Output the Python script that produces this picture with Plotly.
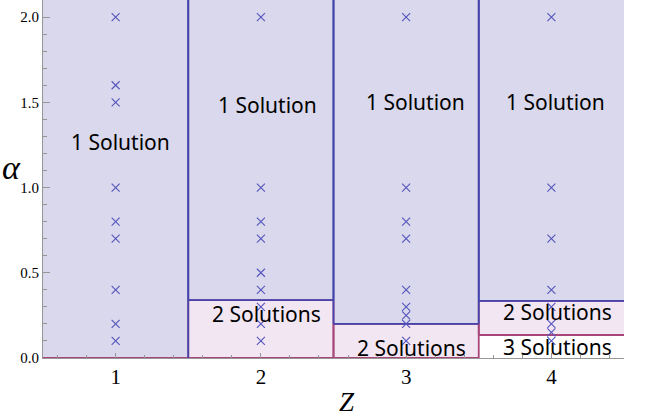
import plotly.graph_objects as go

# ---------------- data ----------------
Z = [1, 2, 3, 4]
alpha_z1 = [2.0, 1.6, 1.5, 1.0, 0.8, 0.7, 0.4, 0.2, 0.1]
alpha_z2 = [2.0, 1.0, 0.8, 0.7, 0.5, 0.4, 0.3, 0.2, 0.1]
alpha_z3 = [2.0, 1.0, 0.8, 0.7, 0.4, 0.3, 0.25, 0.2, 0.1]
alpha_z4 = [2.0, 1.0, 0.7, 0.4, 0.3, 0.2, 0.15, 0.1]
samples = [alpha_z1, alpha_z2, alpha_z3, alpha_z4]

one_sol_lower = [0.0, 0.34, 0.2, 0.335]   # lower boundary of "1 Solution" region
two_sol_lower = [0.0, 0.0, 0.0, 0.135]    # lower boundary of "2 Solutions" region
alpha_max = 2.1

region_labels = [
    # (text, Z, alpha)
    ("1 Solution", 1.034, 1.265),
    ("1 Solution", 2.048, 1.485),
    ("1 Solution", 3.062, 1.503),
    ("1 Solution", 4.028, 1.50),
    ("2 Solutions", 2.04, 0.256),
    ("2 Solutions", 3.038, 0.058),
    ("2 Solutions", 4.04, 0.27),
    ("3 Solutions", 4.04, 0.062),
]

# ---------------- styles ----------------
LAV = "rgb(217,216,236)"
PINK = "rgb(242,230,243)"
BLUE = "rgb(68,68,172)"
MAROON = "rgb(168,70,122)"
MARK = "rgb(85,85,190)"
GREY = "rgb(150,150,150)"

fig = go.Figure()

# fills
for i, z in enumerate(Z):
    xl, xr = z - 0.5, z + 0.5
    b1, b2 = one_sol_lower[i], two_sol_lower[i]
    fig.add_trace(go.Scatter(x=[xl, xr, xr, xl, xl], y=[b1, b1, alpha_max, alpha_max, b1],
                             mode="lines", fill="toself", fillcolor=LAV,
                             line=dict(width=0), hoverinfo="skip", showlegend=False))
    if b1 > b2:
        fig.add_trace(go.Scatter(x=[xl, xr, xr, xl, xl], y=[b2, b2, b1, b1, b2],
                                 mode="lines", fill="toself", fillcolor=PINK,
                                 line=dict(width=0), hoverinfo="skip", showlegend=False))

# pink (2-solution) region edges
px, py = [], []
for i, z in enumerate(Z):
    xl, xr = z - 0.5, z + 0.5
    lo, hi = two_sol_lower[i], one_sol_lower[i]
    px += [xl, xr, None]; py += [lo, lo, None]
    if hi > lo:
        px += [xl, xr, None]; py += [hi, hi, None]
        if i > 0:
            px += [xl, xl, None]; py += [lo, hi, None]
        if i < len(Z) - 1:
            px += [xr, xr, None]; py += [lo, hi, None]
fig.add_trace(go.Scatter(x=px, y=py, mode="lines", line=dict(color=MAROON, width=1.8),
                         hoverinfo="skip", showlegend=False))

# blue (1-solution) region edges
bx, by = [], []
for i, z in enumerate(Z):
    xl, xr = z - 0.5, z + 0.5
    b = one_sol_lower[i]
    if i > 0:
        bx += [xl, xl, None]; by += [b, alpha_max, None]
    if b > 0:
        bx += [xl, xr, None]; by += [b, b, None]
    if i < len(Z) - 1:
        bx += [xr, xr, None]; by += [b, alpha_max, None]
fig.add_trace(go.Scatter(x=bx, y=by, mode="lines", line=dict(color=BLUE, width=1.8),
                         hoverinfo="skip", showlegend=False))

# sample markers
for z, a in zip(Z, samples):
    fig.add_trace(go.Scatter(x=[z] * len(a), y=a, mode="markers",
                             marker=dict(symbol="x-thin", size=8, line=dict(color=MARK, width=1.1)),
                             showlegend=False))

for text, x, y in region_labels:
    fig.add_annotation(x=x, y=y, text=text, showarrow=False, xref="x", yref="y",
                       font=dict(family="Noto Sans", size=21, color="black"))

fig.add_annotation(x=-0.055, y=0.531, xref="paper", yref="paper", text="<i>α</i>",
                   xanchor="center", yanchor="middle",
                   showarrow=False, font=dict(family="Liberation Serif", size=34, color="black"))
fig.add_annotation(x=0.523, y=-0.123, xref="paper", yref="paper", text="<i>Z</i>",
                   xanchor="center", yanchor="middle",
                   showarrow=False, font=dict(family="Liberation Serif", size=27, color="black"))

fig.update_layout(
    width=654, height=420,
    margin=dict(l=43, r=30, t=0, b=62, autoexpand=False),
    plot_bgcolor="white", paper_bgcolor="white",
    xaxis=dict(range=[0.5, 4.5], tickvals=Z, ticktext=[str(z) for z in Z],
               showgrid=False, zeroline=False, showline=True, linecolor=GREY, linewidth=1,
               ticks="inside", ticklen=5, tickcolor=GREY, automargin=False,
               minor=dict(ticks="inside", dtick=0.2, tick0=0, ticklen=3, tickcolor=GREY),
               tickfont=dict(family="Liberation Serif", size=21, color="black"),
               layer="above traces"),
    yaxis=dict(range=[0, alpha_max], tickvals=[0, 0.5, 1.0, 1.5, 2.0],
               ticktext=["0.0", "0.5", "1.0", "1.5", "2.0"],
               showgrid=False, zeroline=False, showline=True, linecolor=GREY, linewidth=1,
               ticks="inside", ticklen=7, tickcolor=GREY, automargin=False,
               minor=dict(ticks="inside", dtick=0.1, tick0=0, ticklen=4, tickcolor=GREY),
               tickfont=dict(family="Liberation Serif", size=15, color="black"),
               layer="above traces"),
)

fig.write_html("out.html", config={"displayModeBar": False},
               post_script="document.body.style.margin='0px';")
